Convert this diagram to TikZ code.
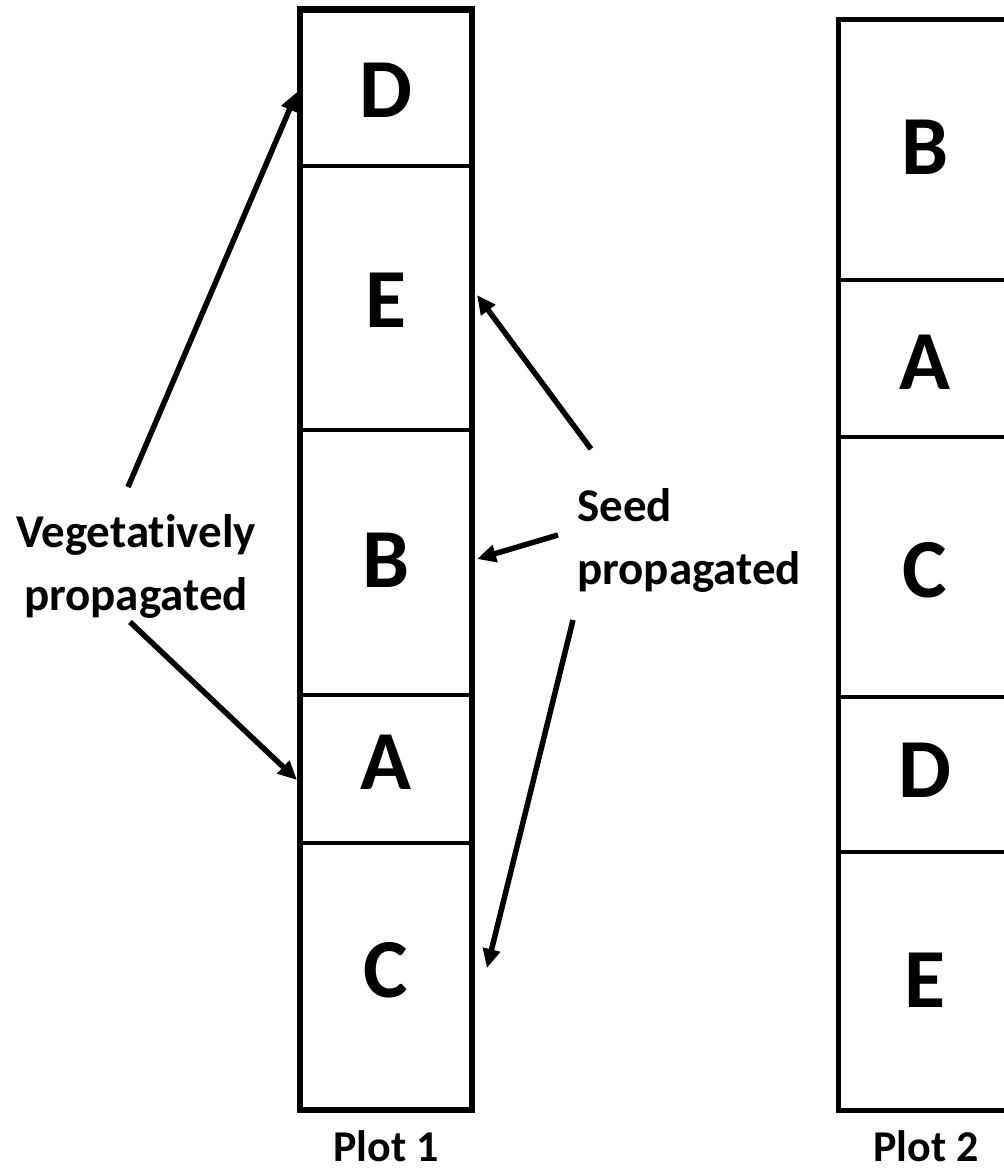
\documentclass[tikz,border=0pt]{standalone}
\usepackage{fontspec}
\setmainfont[Ligatures={NoCommon}]{Carlito}
\usetikzlibrary{arrows.meta}
\begin{document}
\begin{tikzpicture}[x=1pt,y=-1pt,
  frame/.style={draw=black,line width=6.5pt},
  frametwo/.style={draw=black,line width=5pt},
  divider/.style={draw=black,line width=4.5pt},
  letter/.style={font=\fontsize{84}{84}\selectfont\bfseries,inner sep=0pt},
  caption/.style={font=\fontsize{44}{48}\selectfont\bfseries,inner sep=0pt},
  label/.style={font=\fontsize{47}{63}\selectfont\bfseries,inner sep=0pt},
  pointer/.style={draw=black,line width=5.5pt,-{Triangle[length=19pt,width=17pt]}}]
\useasboundingbox (0,0) rectangle (1004,1171);
\clip (0,0) rectangle (1004,1171);

% Plot 1 column
\draw[frame] (300,9.5) rectangle (472,1110);
\foreach \yy in {166,430,695,843} \draw[divider] (300,\yy) -- (472,\yy);
\node[letter] (p1D) at (386,90) {D};
\node[letter] (p1E) at (386,300) {E};
\node[letter] (p1B) at (386,560) {B};
\node[letter] (p1A) at (386,762) {A};
\node[letter] (p1C) at (386,970) {C};
\node[caption,anchor=base] (cap1) at (386,1161) {Plot 1};

% Plot 2 column (runs past the right edge)
\draw[frametwo] (838,19) rectangle (1012,1110);
\foreach \yy in {280,437,697,852} \draw[divider] (838,\yy) -- (1012,\yy);
\node[letter] (p2B) at (925,147) {B};
\node[letter] (p2A) at (925,362) {A};
\node[letter] (p2C) at (925,570) {C};
\node[letter] (p2D) at (925,770) {D};
\node[letter] (p2E) at (925,980) {E};
\node[caption,anchor=base] (cap2) at (926,1161) {Plot 2};

% Labels
\node[label,align=center] (veg) at (136,566) {Vegetatively\\propagated};
\node[label,align=left,anchor=west] (seed) at (577,540) {Seed\\propagated};

% Arrow ends
\coordinate (vegTop) at (128,487);
\coordinate (vegBot) at (130,622);
\coordinate (toD) at (297,92);
\coordinate (toA) at (297,780);
\coordinate (seedTop) at (591,449);
\coordinate (seedMid) at (558,535);
\coordinate (seedBot) at (573,620);
\coordinate (toE) at (477,295);
\coordinate (toB) at (477,559);
\coordinate (toC) at (487,968);

\draw[pointer] (vegTop) -- (toD);
\draw[pointer] (vegBot) -- (toA);
\draw[pointer] (seedTop) -- (toE);
\draw[pointer] (seedMid) -- (toB);
\draw[pointer] (seedBot) -- (toC);
\end{tikzpicture}
\end{document}
